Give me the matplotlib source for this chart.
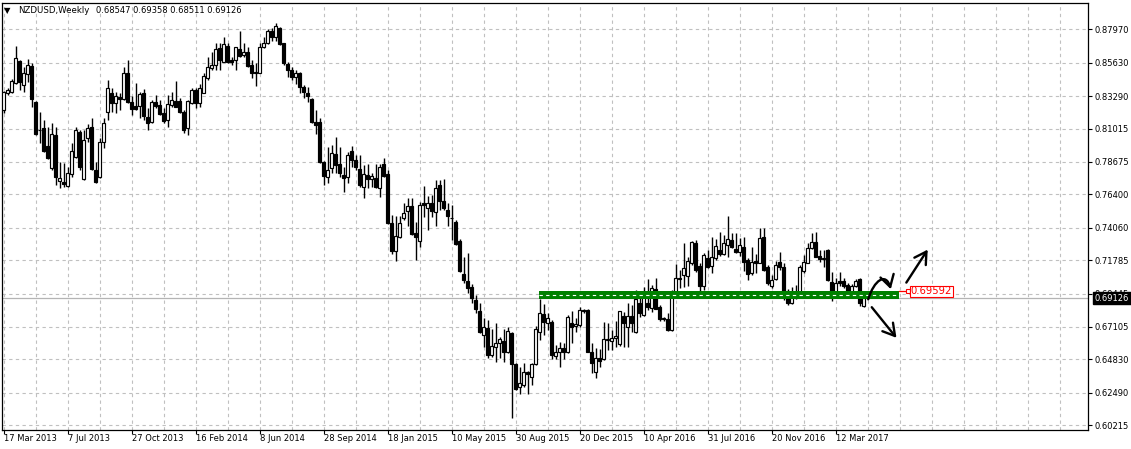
import numpy as np
import pandas as pd
import matplotlib
matplotlib.use("Agg")
import matplotlib.pyplot as plt
from matplotlib.patches import Rectangle, FancyArrowPatch
from matplotlib.path import Path

# weekly NZDUSD bars, first bar = week of 17 Mar 2013
opens = [
    0.8231, 0.8351, 0.8357, 0.8421, 0.8575, 0.8407, 0.8484, 0.8540, 0.8287, 0.8091,
    0.8105, 0.7979, 0.7825, 0.8056, 0.7734, 0.7727, 0.7698, 0.7783, 0.7902, 0.8077,
    0.7748, 0.8035, 0.8112, 0.7811, 0.7762, 0.8007, 0.8217, 0.8351, 0.8280, 0.8322,
    0.8308, 0.8491, 0.8287, 0.8259, 0.8259, 0.8351, 0.8182, 0.8147, 0.8287, 0.8266,
    0.8210, 0.8161, 0.8266, 0.8294, 0.8294, 0.8217, 0.8105, 0.8280, 0.8371, 0.8280,
    0.8351, 0.8456, 0.8526, 0.8547, 0.8666, 0.8568, 0.8680, 0.8582, 0.8582, 0.8659,
    0.8617, 0.8638, 0.8547, 0.8498, 0.8491, 0.8673, 0.8701, 0.8785, 0.8743, 0.8806,
    0.8701, 0.8554, 0.8512, 0.8463, 0.8491, 0.8393, 0.8351, 0.8308, 0.8147, 0.8147,
    0.7867, 0.7762, 0.7825, 0.7923, 0.7853, 0.7776, 0.7762, 0.7944, 0.7881, 0.7818,
    0.7692, 0.7776, 0.7748, 0.7755, 0.7685, 0.7853, 0.7783, 0.7439, 0.7243, 0.7341,
    0.7474, 0.7523, 0.7558, 0.7369, 0.7313, 0.7579, 0.7544, 0.7579, 0.7516, 0.7706,
    0.7593, 0.7530, 0.7474, 0.7446, 0.7313, 0.7082, 0.7033, 0.6991, 0.6899, 0.6822,
    0.6654, 0.6703, 0.6514, 0.6570, 0.6598, 0.6612, 0.6535, 0.6668, 0.6451, 0.6290,
    0.6304, 0.6395, 0.6360, 0.6451, 0.6675, 0.6801, 0.6738, 0.6745, 0.6507, 0.6535,
    0.6563, 0.6535, 0.6738, 0.6717, 0.6724, 0.6829, 0.6829, 0.6535, 0.6395, 0.6493,
    0.6486, 0.6619, 0.6612, 0.6633, 0.6591, 0.6787, 0.6710, 0.6787, 0.6675, 0.6878,
    0.6794, 0.6878, 0.6843, 0.6977, 0.6850, 0.6766, 0.6766, 0.6689, 0.6949, 0.7047,
    0.7075, 0.7068, 0.7159, 0.7299, 0.7138, 0.6998, 0.7194, 0.7138, 0.7194, 0.7250,
    0.7222, 0.7285, 0.7320, 0.7257, 0.7236, 0.7271, 0.7180, 0.7089, 0.7173, 0.7159,
    0.7341, 0.7131, 0.6998, 0.7047, 0.7166, 0.7131, 0.6963, 0.6878, 0.6934, 0.6956,
    0.7103, 0.7159, 0.7264, 0.7306, 0.7208, 0.7187, 0.7250, 0.7026, 0.6941, 0.7033,
    0.7033, 0.7005, 0.6927, 0.6998, 0.7047, 0.68547,
]
highs = [
    0.8364, 0.8386, 0.8449, 0.8680, 0.8582, 0.8533, 0.8589, 0.8561, 0.8294, 0.8217,
    0.8161, 0.8112, 0.8140, 0.8112, 0.7867, 0.7860, 0.7832, 0.8000, 0.8112, 0.8091,
    0.8091, 0.8133, 0.8175, 0.7867, 0.8035, 0.8175, 0.8442, 0.8386, 0.8357, 0.8351,
    0.8533, 0.8582, 0.8329, 0.8421, 0.8357, 0.8378, 0.8245, 0.8301, 0.8336, 0.8301,
    0.8245, 0.8336, 0.8357, 0.8435, 0.8315, 0.8231, 0.8301, 0.8386, 0.8386, 0.8414,
    0.8491, 0.8603, 0.8638, 0.8701, 0.8701, 0.8743, 0.8701, 0.8603, 0.8673, 0.8785,
    0.8701, 0.8673, 0.8582, 0.8561, 0.8701, 0.8743, 0.8799, 0.8806, 0.8841, 0.8813,
    0.8701, 0.8568, 0.8533, 0.8512, 0.8498, 0.8407, 0.8393, 0.8315, 0.8231, 0.8175,
    0.7874, 0.7972, 0.7986, 0.8042, 0.7972, 0.7832, 0.7937, 0.7979, 0.7916, 0.7916,
    0.7846, 0.7853, 0.7790, 0.7853, 0.7853, 0.7895, 0.7811, 0.7495, 0.7488, 0.7488,
    0.7579, 0.7614, 0.7614, 0.7446, 0.7586, 0.7698, 0.7628, 0.7635, 0.7741, 0.7741,
    0.7748, 0.7579, 0.7565, 0.7460, 0.7327, 0.7201, 0.7229, 0.7012, 0.6934, 0.6878,
    0.6773, 0.6759, 0.6696, 0.6738, 0.6640, 0.6696, 0.6710, 0.6675, 0.6458, 0.6430,
    0.6458, 0.6402, 0.6458, 0.6717, 0.6906, 0.6871, 0.6808, 0.6759, 0.6584, 0.6605,
    0.6598, 0.6794, 0.6822, 0.6773, 0.6850, 0.6836, 0.6836, 0.6598, 0.6563, 0.6556,
    0.6745, 0.6738, 0.6689, 0.6752, 0.6822, 0.6815, 0.6878, 0.6864, 0.6970, 0.6913,
    0.6991, 0.7047, 0.7005, 0.7054, 0.6864, 0.6780, 0.6808, 0.6970, 0.7152, 0.7110,
    0.7299, 0.7201, 0.7313, 0.7320, 0.7159, 0.7229, 0.7250, 0.7341, 0.7327, 0.7376,
    0.7355, 0.7488, 0.7369, 0.7369, 0.7334, 0.7341, 0.7194, 0.7271, 0.7222, 0.7404,
    0.7404, 0.7145, 0.7075, 0.7173, 0.7236, 0.7159, 0.6977, 0.6991, 0.7005, 0.7145,
    0.7215, 0.7299, 0.7369, 0.7376, 0.7250, 0.7250, 0.7257, 0.7096, 0.7054, 0.7096,
    0.7054, 0.7019, 0.7012, 0.7047, 0.7054, 0.69358,
]
lows = [
    0.8210, 0.8336, 0.8350, 0.8414, 0.8371, 0.8357, 0.8428, 0.8252, 0.8056, 0.8000,
    0.7937, 0.7888, 0.7811, 0.7706, 0.7685, 0.7692, 0.7692, 0.7762, 0.7895, 0.7811,
    0.7741, 0.8007, 0.7811, 0.7720, 0.7758, 0.7965, 0.8161, 0.8217, 0.8210, 0.8231,
    0.8301, 0.8280, 0.8196, 0.8231, 0.8175, 0.8161, 0.8091, 0.8140, 0.8245, 0.8196,
    0.8140, 0.8112, 0.8252, 0.8252, 0.8210, 0.8070, 0.8056, 0.8273, 0.8245, 0.8252,
    0.8350, 0.8442, 0.8512, 0.8512, 0.8512, 0.8565, 0.8561, 0.8547, 0.8512, 0.8603,
    0.8603, 0.8533, 0.8456, 0.8400, 0.8491, 0.8666, 0.8694, 0.8715, 0.8715, 0.8687,
    0.8547, 0.8463, 0.8442, 0.8414, 0.8351, 0.8315, 0.8287, 0.8140, 0.8063, 0.7860,
    0.7706, 0.7720, 0.7790, 0.7790, 0.7762, 0.7657, 0.7720, 0.7832, 0.7811, 0.7692,
    0.7614, 0.7685, 0.7692, 0.7685, 0.7621, 0.7762, 0.7432, 0.7222, 0.7173, 0.7334,
    0.7460, 0.7418, 0.7355, 0.7180, 0.7271, 0.7481, 0.7390, 0.7481, 0.7418, 0.7530,
    0.7530, 0.7418, 0.7320, 0.7285, 0.7096, 0.7019, 0.6948, 0.6878, 0.6808, 0.6668,
    0.6570, 0.6493, 0.6500, 0.6465, 0.6493, 0.6465, 0.6528, 0.6072, 0.6269, 0.6240,
    0.6290, 0.6240, 0.6304, 0.6444, 0.6619, 0.6654, 0.6689, 0.6486, 0.6486, 0.6430,
    0.6486, 0.6528, 0.6598, 0.6675, 0.6710, 0.6808, 0.6535, 0.6388, 0.6353, 0.6430,
    0.6479, 0.6549, 0.6549, 0.6570, 0.6577, 0.6570, 0.6570, 0.6675, 0.6668, 0.6780,
    0.6787, 0.6829, 0.6815, 0.6836, 0.6752, 0.6752, 0.6682, 0.6682, 0.6934, 0.6984,
    0.6991, 0.6998, 0.7145, 0.7096, 0.6956, 0.6970, 0.7124, 0.7089, 0.7180, 0.7208,
    0.7215, 0.7201, 0.7264, 0.7229, 0.7208, 0.7103, 0.7040, 0.7075, 0.7089, 0.7156,
    0.7103, 0.7005, 0.6984, 0.7040, 0.7110, 0.6899, 0.6864, 0.6871, 0.6906, 0.6949,
    0.7089, 0.7156, 0.7257, 0.7201, 0.7166, 0.7131, 0.7033, 0.6892, 0.6920, 0.6998,
    0.6984, 0.6920, 0.6913, 0.6991, 0.6857, 0.68511,
]
closes = [
    0.8357, 0.8371, 0.8435, 0.8596, 0.8428, 0.8491, 0.8547, 0.8308, 0.8063, 0.8089,
    0.7944, 0.7895, 0.8063, 0.7762, 0.7755, 0.7713, 0.7790, 0.7944, 0.8091, 0.7832,
    0.8021, 0.8105, 0.7818, 0.7727, 0.8007, 0.8140, 0.8386, 0.8280, 0.8329, 0.8308,
    0.8491, 0.8287, 0.8238, 0.8238, 0.8343, 0.8189, 0.8140, 0.8287, 0.8259, 0.8203,
    0.8154, 0.8273, 0.8301, 0.8252, 0.8217, 0.8091, 0.8294, 0.8371, 0.8280, 0.8386,
    0.8470, 0.8533, 0.8547, 0.8659, 0.8582, 0.8694, 0.8568, 0.8568, 0.8673, 0.8610,
    0.8638, 0.8540, 0.8491, 0.8491, 0.8673, 0.8701, 0.8785, 0.8743, 0.8820, 0.8694,
    0.8561, 0.8512, 0.8463, 0.8491, 0.8393, 0.8357, 0.8329, 0.8147, 0.8126, 0.7867,
    0.7769, 0.7811, 0.7930, 0.7846, 0.7790, 0.7755, 0.7916, 0.7881, 0.7832, 0.7706,
    0.7783, 0.7748, 0.7769, 0.7692, 0.7832, 0.7769, 0.7439, 0.7243, 0.7348, 0.7439,
    0.7509, 0.7558, 0.7362, 0.7341, 0.7565, 0.7565, 0.7579, 0.7523, 0.7685, 0.7593,
    0.7544, 0.7488, 0.7474, 0.7292, 0.7103, 0.7040, 0.6984, 0.6913, 0.6836, 0.6675,
    0.6710, 0.6514, 0.6577, 0.6598, 0.6626, 0.6535, 0.6682, 0.6451, 0.6276, 0.6318,
    0.6395, 0.6381, 0.6451, 0.6696, 0.6808, 0.6745, 0.6773, 0.6514, 0.6535, 0.6563,
    0.6535, 0.6780, 0.6710, 0.6731, 0.6829, 0.6822, 0.6535, 0.6458, 0.6493, 0.6472,
    0.6626, 0.6626, 0.6633, 0.6647, 0.6822, 0.6738, 0.6787, 0.6738, 0.6906, 0.6808,
    0.6920, 0.6850, 0.6984, 0.6836, 0.6766, 0.6773, 0.6689, 0.6956, 0.7054, 0.7054,
    0.7124, 0.7173, 0.7306, 0.7110, 0.6998, 0.7215, 0.7131, 0.7201, 0.7278, 0.7222,
    0.7299, 0.7327, 0.7271, 0.7236, 0.7285, 0.7166, 0.7082, 0.7166, 0.7159, 0.7334,
    0.7110, 0.7019, 0.7040, 0.7145, 0.7131, 0.6963, 0.6878, 0.6934, 0.6956, 0.7131,
    0.7166, 0.7264, 0.7306, 0.7201, 0.7187, 0.7194, 0.7040, 0.6920, 0.7019, 0.7019,
    0.6998, 0.6941, 0.6998, 0.7033, 0.6878, 0.69126,
]

symbol = "NZDUSD,Weekly"
first_week = "2013-03-17"
price_ticks = [0.87970, 0.85630, 0.83290, 0.81015, 0.78675, 0.76400, 0.74060,
               0.71785, 0.69445, 0.67105, 0.64830, 0.62490, 0.60215]
last_price = closes[-1]

# support zone drawn on the chart (bar index range, price range)
zone_start, zone_end = 133.8, 223.8
zone_top, zone_bottom = 0.69592, 0.6903
zone_line = 0.6937

W, H = 1131, 449
fig = plt.figure(figsize=(W / 100, H / 100), dpi=100)
fig.patch.set_facecolor("white")
ax = fig.add_axes([1.5 / W, (H - 430) / H, (1088 - 1.5) / W, (430 - 3) / H])

x = np.arange(len(closes))
o = np.array(opens)
c = np.array(closes)
up = c > o

ax.vlines(x, lows, highs, color="black", lw=1.0, zorder=3)
ax.bar(x, np.maximum(np.abs(c - o), 0.00008), bottom=np.minimum(o, c), width=0.62,
       color=np.where(up, "white", "black"), edgecolor="black", linewidth=0.85, zorder=4)

ax.set_xlim(-0.55, 271.1)
ax.set_ylim(0.59881, 0.89814)

# date labels every 16 weeks, grid every 8
dates = pd.date_range(first_week, periods=len(closes), freq="W-SUN")
lab_idx = np.arange(0, len(closes), 16)
ax.set_xticks(lab_idx)
ax.set_xticklabels([f"{d.day} {d.strftime('%b %Y')}" for d in dates[lab_idx]], ha="left")
ax.set_xticks(np.arange(0, 272, 8), minor=True)
ax.set_yticks(price_ticks)
ax.set_yticklabels([f"{p:.5f}" for p in price_ticks])
ax.yaxis.tick_right()

grid_kw = dict(color="#c0c0c0", linestyle=(0, (3, 3)), linewidth=0.8)
ax.grid(True, which="both", axis="x", **grid_kw)
ax.grid(True, which="major", axis="y", **grid_kw)
ax.set_axisbelow(True)

ax.tick_params(axis="x", which="major", direction="out", length=3, width=0.8,
               pad=0, labelsize=6)
ax.tick_params(axis="x", which="minor", length=0)
ax.tick_params(axis="y", direction="out", length=3, width=0.8, pad=1.5, labelsize=6)
for s in ax.spines.values():
    s.set_linewidth(0.9)

# current price line
ax.axhline(last_price, color="#b4b4b4", lw=0.9, zorder=2)

# green zone with dashed level inside
ax.add_patch(Rectangle((zone_start, zone_bottom), zone_end - zone_start,
                       zone_top - zone_bottom, facecolor="#008000", edgecolor="none", zorder=5))
ax.hlines(zone_line, zone_start, zone_end, colors="white", linestyles=(0, (3, 3)), lw=0.8, zorder=6)

# red price label of the zone
ax.plot([zone_end, zone_end + 1.9], [zone_top, zone_top], color="red", lw=0.9, zorder=6)
ax.plot([zone_end + 2.4], [zone_top], marker="s", ms=3, mfc="white", mec="red", mew=0.8, zorder=6)
ax.text(zone_end + 3.0, zone_top, f"{zone_top:.5f}", color="red", fontsize=7.2, va="center", ha="left",
        bbox=dict(facecolor="white", edgecolor="red", pad=0.6, linewidth=0.8), zorder=7)

# last price box on the axis
ax.annotate(f"{last_price:.5f}", xy=(1, last_price), xycoords=("axes fraction", "data"),
            xytext=(5, 0), textcoords="offset points", color="white", fontsize=6,
            va="center", ha="left", annotation_clip=False, zorder=10,
            bbox=dict(facecolor="black", edgecolor="black", pad=1.2))

# hand drawn arrows
arrow_kw = dict(arrowstyle="->,head_length=0.6,head_width=0.35", mutation_scale=14,
                color="black", lw=1.7, zorder=8)
curve = Path([(216.15, 0.6904), (217.6, 0.7040), (220.6, 0.7096), (221.8, 0.6975)],
             [Path.MOVETO, Path.CURVE4, Path.CURVE4, Path.CURVE4])
ax.add_patch(FancyArrowPatch(path=curve, **arrow_kw))
ax.add_patch(FancyArrowPatch((225.3, 0.7005), (231.4, 0.7269), **arrow_kw))
ax.add_patch(FancyArrowPatch((216.6, 0.6864), (223.65, 0.6619), **arrow_kw))

# header line
ty = 1 - 10.5 / H
fig.text(4 / W, ty, "\u25bc", fontsize=6, va="center", ha="left")
fig.text(18 / W, ty, symbol, fontsize=6.2, va="center", ha="left")
fig.text(96.5 / W, ty, f"{opens[-1]:.5f} {highs[-1]:.5f} {lows[-1]:.5f} {closes[-1]:.5f}",
         fontsize=6, va="center", ha="left")

fig.savefig("out.png", dpi=100, facecolor="white")
